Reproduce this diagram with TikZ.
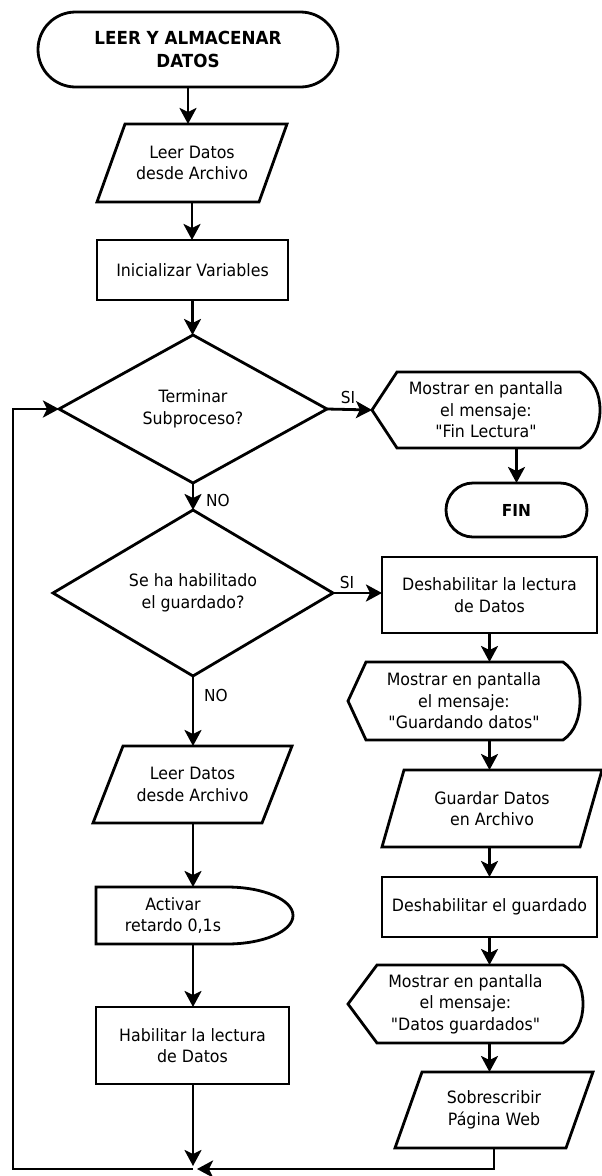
\documentclass[tikz,border=0pt]{standalone}
\usepackage{fontspec}
\setmainfont[FakeStretch=0.93,Ligatures=TeXOff]{DejaVu Sans}
\usetikzlibrary{shapes.geometric,arrows.meta,calc}

\begin{document}
\begin{tikzpicture}[x=1pt,y=-1pt,line width=2.8pt,line join=miter,
  every node/.style={inner sep=0pt,outer sep=0pt},
  txt/.style={font=\fontsize{17}{21.5}\selectfont,align=center},
  ttl/.style={font=\fontsize{18}{23}\selectfont\bfseries,align=center},
  process/.style={txt,draw,rectangle},
  decision/.style={txt,draw,diamond},
  terminal/.style={draw,rectangle},
  holder/.style={txt,rectangle},
  flow/.style={-{Stealth[length=16pt,width=17pt,inset=4pt]}},
  lbl/.style={font=\fontsize{16.5}{20}\selectfont}]
\useasboundingbox (0,0) rectangle (602,1176);

% ---------- main column ----------
\node[ttl,terminal,rounded corners=37.5pt,minimum width=300pt,minimum height=75pt]
  (t1) at (188,49.5) {LEER Y ALMACENAR\\DATOS};

\node[holder,minimum width=190pt,minimum height=78pt] (p1) at (192,163)
  {Leer Datos\\desde Archivo};
\draw (p1.south west) -- ([xshift=-28pt]p1.south east) -- (p1.north east)
  -- ([xshift=28pt]p1.north west) -- cycle;

\node[process,minimum width=191pt,minimum height=60pt] (r1) at (192.5,270)
  {Inicializar Variables};

\node[decision,minimum width=268pt,minimum height=148pt] (d1) at (193,409)
  {Terminar\\Subproceso?};

\node[decision,minimum width=280pt,minimum height=159pt] (d2) at (193,593)
  {Se ha habilitado\\el guardado?};

% ---------- end branch ----------
\node[holder,minimum width=228pt,minimum height=76pt] (s1) at (486,410)
  {Mostrar en pantalla\\el mensaje:\\"Fin Lectura"};
\draw (s1.west) -- ([xshift=25pt]s1.north west) -- ([xshift=-20pt]s1.north east)
  .. controls +(14,8) and +(0,-16) .. (s1.east)
  .. controls +(0,16) and +(14,-8) .. ([xshift=-20pt]s1.south east)
  -- ([xshift=25pt]s1.south west) -- cycle;

\node[ttl,terminal,font=\fontsize{16.5}{20}\selectfont\bfseries,rounded corners=27pt,
  minimum width=141pt,minimum height=54pt] (f1) at (516.5,510) {FIN};

% ---------- saving branch ----------
\node[process,minimum width=215pt,minimum height=76pt] (r2) at (489.5,595)
  {Deshabilitar la lectura\\de Datos};

\node[holder,minimum width=232pt,minimum height=78pt] (s2) at (464,701)
  {Mostrar en pantalla\\el mensaje:\\"Guardando datos"};
\draw (s2.west) -- ([xshift=18pt]s2.north west) -- ([xshift=-17pt]s2.north east)
  .. controls +(12,8) and +(0,-16) .. (s2.east)
  .. controls +(0,16) and +(12,-8) .. ([xshift=-17pt]s2.south east)
  -- ([xshift=18pt]s2.south west) -- cycle;

\node[holder,minimum width=220pt,minimum height=77pt] (p3) at (492,808.5)
  {Guardar Datos\\en Archivo};
\draw (p3.south west) -- ([xshift=-22pt]p3.south east) -- (p3.north east)
  -- ([xshift=22pt]p3.north west) -- cycle;

\node[process,minimum width=215pt,minimum height=60pt] (r3) at (489.5,907)
  {Deshabilitar el guardado};

\node[holder,minimum width=235pt,minimum height=78pt] (s3) at (465.5,1004)
  {Mostrar en pantalla\\el mensaje:\\"Datos guardados"};
\draw (s3.west) -- ([xshift=29pt]s3.north west) -- ([xshift=-20pt]s3.north east)
  .. controls +(14,8) and +(0,-16) .. (s3.east)
  .. controls +(0,16) and +(14,-8) .. ([xshift=-20pt]s3.south east)
  -- ([xshift=29pt]s3.south west) -- cycle;

\node[holder,minimum width=198pt,minimum height=76pt] (p4) at (494,1110)
  {Sobrescribir\\Página Web};
\draw (p4.south west) -- ([xshift=-27pt]p4.south east) -- (p4.north east)
  -- ([xshift=27pt]p4.north west) -- cycle;

% ---------- reading branch ----------
\node[holder,minimum width=199pt,minimum height=77pt] (p2) at (192.5,784.5)
  {Leer Datos\\desde Archivo};
\draw (p2.south west) -- ([xshift=-30pt]p2.south east) -- (p2.north east)
  -- ([xshift=30pt]p2.north west) -- cycle;

\node[holder,minimum width=154pt,minimum height=57pt] (dl) at (173,915.5)
  {Activar\\retardo 0,1s};
\draw ([xshift=-23pt]dl.north east)
  .. controls +(36.5,0) and +(0,-15.7) .. ([xshift=43pt]dl.east)
  .. controls +(0,15.7) and +(36.5,0) .. ([xshift=-23pt]dl.south east)
  -- (dl.south west) -- (dl.north west) -- cycle;

\node[process,minimum width=193pt,minimum height=77pt] (r4) at (192.5,1045.5)
  {Habilitar la lectura\\de Datos};

% ---------- loop points ----------
\coordinate (m) at (193,1169);
\coordinate (lc) at (13,1169);

% ---------- connectors ----------
\draw[flow] (t1.south) -- (t1.south |- p1.north);
\draw[flow] (p1.south) -- (p1.south |- r1.north);
\draw[flow] (r1.south) -- (r1.south |- d1.north);
\draw[flow] (d1.east) -- (s1.west);
\draw[flow] (f1.north |- s1.south) -- (f1.north);
\draw[flow] (d1.south) -- (d2.north);
\draw[flow] (d2.east) -- (d2.east -| r2.west);
\draw[flow] (r2.south) -- (r2.south |- s2.north);
\draw[flow] (r2.south |- s2.south) -- (r2.south |- p3.north);
\draw[flow] (r2.south |- p3.south) -- (r2.south |- r3.north);
\draw[flow] (r3.south) -- (r3.south |- s3.north);
\draw[flow] (r3.south |- s3.south) -- (r3.south |- p4.north);
\draw[flow] (d2.south) -- (d2.south |- p2.north);
\draw[flow] (d2.south |- p2.south) -- (d2.south |- dl.north);
\draw[flow] (d2.south |- dl.south) -- (d2.south |- r4.north);
\draw[flow] (d2.south |- r4.south) -- ([yshift=3pt]m);
\draw[flow] (p4.south) -- (p4.south |- m) -- ([xshift=4pt]m);
\draw[flow] (m) -- (lc) -- (lc |- d1.west) -- (d1.west);

% ---------- branch labels ----------
\node[lbl] (si1) at (348,397) {SI};
\node[lbl] (no1) at (218,500) {NO};
\node[lbl] (si2) at (347,582) {SI};
\node[lbl] (no2) at (216,695) {NO};
\end{tikzpicture}
\end{document}
